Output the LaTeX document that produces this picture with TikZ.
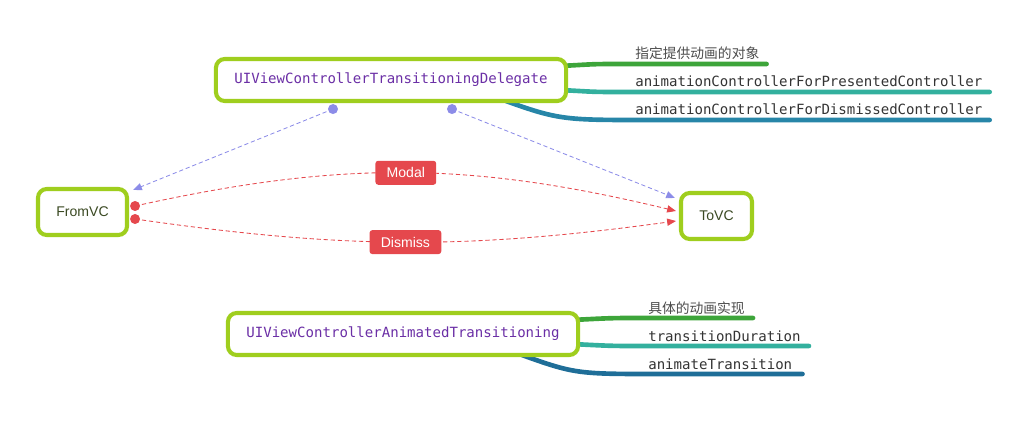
\documentclass[tikz,border=0pt]{standalone}
\usepackage{fontspec}
\setmainfont{Liberation Sans}
\setmonofont{DejaVu Sans Mono}
\newfontfamily\cjk{Noto Sans CJK SC}
\usetikzlibrary{arrows.meta,calc,positioning,backgrounds}

\definecolor{lime}{HTML}{9FCE1E}
\definecolor{vctext}{HTML}{3B4A23}
\definecolor{prototext}{HTML}{6B2FA6}
\definecolor{linkpurple}{HTML}{8C8CE8}
\definecolor{modalred}{HTML}{E5484D}
\definecolor{brgreen}{HTML}{3DA53A}
\definecolor{brteal}{HTML}{33B09E}
\definecolor{brblue}{HTML}{2786A8}
\definecolor{brbluedark}{HTML}{1F6E98}

\tikzset{
  vc/.style={draw=lime, line width=2.9pt, rounded corners=0.22cm, fill=white,
    text=vctext, font=\fontsize{10}{12}\selectfont, minimum height=1.15cm},
  proto/.style={vc, text=prototext, font=\ttfamily\fontsize{10}{12}\selectfont,
    minimum width=8.75cm, minimum height=1.05cm},
  tag/.style={fill=modalred, text=white, rounded corners=2pt, inner xsep=8pt,
    minimum height=0.6cm, font=\fontsize{10}{12}\selectfont},
  leaf/.style={anchor=base west, inner sep=0pt, text=black!80,
    font=\ttfamily\fontsize{10}{12}\selectfont},
  cjkleaf/.style={leaf, text=black!70, font=\cjk\fontsize{9.8}{12}\selectfont},
  branch/.style={line width=3.3pt, line cap=round},
  uses/.style={linkpurple, densely dashed, line width=0.6pt,
    -{Triangle[length=2.2mm, width=1.8mm]}},
  goes/.style={modalred, densely dashed, line width=0.6pt,
    -{Triangle[length=2.2mm, width=1.8mm]}},
  dot/.style={circle, inner sep=0pt, minimum size=0.25cm}
}

\begin{document}
\begin{tikzpicture}[x=0.025cm, y=0.025cm]
  \useasboundingbox (0,0) rectangle (1010,-426);

  % protocols and view controllers
  \node[proto] (D) at (391,-80) {UIViewControllerTransitioningDelegate};
  \node[proto] (A) at (403,-334) {UIViewControllerAnimatedTransitioning};
  \node[vc, minimum width=2.225cm] (F) at (82.5,-212) {FromVC};
  \node[vc, minimum width=1.775cm] (T) at (716.5,-216) {ToVC};

  % leaves
  \node[cjkleaf] (d0) at (635,-59) {指定提供动画的对象};
  \node[leaf] (d1) at (635,-87) {animationControllerForPresentedController};
  \node[leaf] (d2) at (635,-115) {animationControllerForDismissedController};
  \node[cjkleaf] (a0) at (648,-313) {具体的动画实现};
  \node[leaf] (a1) at (648,-341) {transitionDuration};
  \node[leaf] (a2) at (648,-369) {animateTransition};

  \begin{scope}[on background layer]
    \draw[branch, brgreen] ($(D.east)+(-8,14)$) .. controls +(40,2) and +(-50,0) ..
      ($(d0.base west)+(0,-5)$) -- ($(d0.base east)+(7,-5)$);
    \draw[branch, brteal] ($(D.east)+(-8,-10)$) .. controls +(40,-2) and +(-50,0) ..
      ($(d1.base west)+(0,-5)$) -- ($(d1.base east)+(7,-5)$);
    \draw[branch, brblue] ($(D.south east)+(-62,2)$) .. controls +(50,-18) and +(-70,0) ..
      ($(d2.base west)+(0,-5)$) -- ($(d2.base east)+(7,-5)$);
    \draw[branch, brgreen] ($(A.east)+(-8,14)$) .. controls +(40,2) and +(-40,0) ..
      ($(a0.base west)+(0,-5)$) -- ($(a0.base east)+(8,-5)$);
    \draw[branch, brteal] ($(A.east)+(-8,-10)$) .. controls +(40,-2) and +(-40,0) ..
      ($(a1.base west)+(0,-5)$) -- ($(a1.base east)+(8,-5)$);
    \draw[branch, brbluedark] ($(A.south east)+(-58,2)$) .. controls +(50,-18) and +(-70,0) ..
      ($(a2.base west)+(0,-5)$) -- ($(a2.base east)+(10,-5)$);
  \end{scope}

  % delegate links
  \node[dot, fill=linkpurple] (p1) at ($(D.south)+(-58,-6)$) {};
  \node[dot, fill=linkpurple] (p2) at ($(D.south)+(61,-6)$) {};
  \coordinate (fin) at ($(F.north east)+(4,-3)$);
  \coordinate (tin) at ($(T.north west)+(-4,-7)$);
  \draw[uses] (p1.center) -- (fin);
  \draw[uses] (p2.center) -- (tin);

  % transitions
  \node[dot, fill=modalred] (r1) at ($(F.east)+(6,6)$) {};
  \node[dot, fill=modalred] (r2) at ($(F.east)+(6,-7)$) {};
  \coordinate (t1) at ($(T.west)+(-3,5)$);
  \coordinate (t2) at ($(T.west)+(-3,-5)$);
  \draw[goes] (r1.center) to[bend left=13] node[tag] (modal) {Modal} (t1);
  \draw[goes] (r2.center) to[bend right=8] node[tag] (dismiss) {Dismiss} (t2);
\end{tikzpicture}
\end{document}
